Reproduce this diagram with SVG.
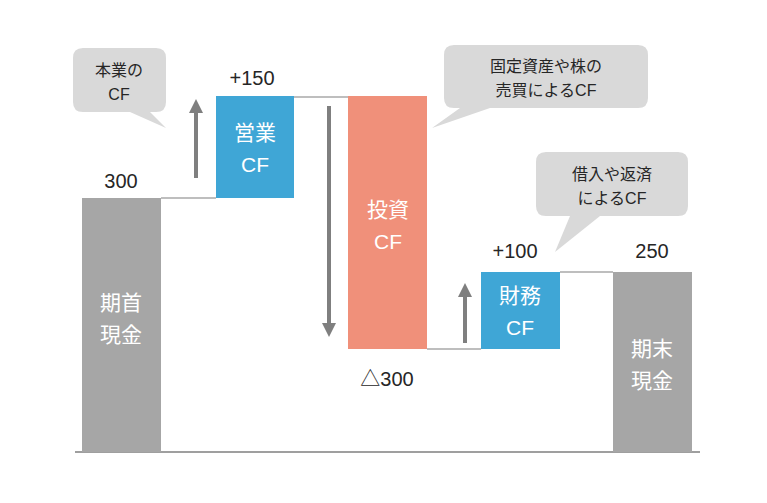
<svg xmlns="http://www.w3.org/2000/svg" width="767" height="503" viewBox="0 0 767 503">
<defs>
<style>
text{font-family:"Liberation Sans","Noto Sans CJK JP",sans-serif}
.num{font-size:20px;fill:#262626;text-anchor:middle}
.bar{font-size:21px;fill:#fff;text-anchor:middle}
.co{font-size:16px;fill:#262626;text-anchor:middle}
.call{fill:#d9d9d9}
.conn{stroke:#7f7f7f;stroke-width:1.2;fill:none}
.arr{stroke:#7f7f7f;stroke-width:4;fill:none}
</style>
<marker id="ah" viewBox="0 0 10 10" refX="5" refY="5" markerWidth="3.5" markerHeight="3.5" orient="auto-start-reverse"><path d="M0,0L10,5L0,10z" fill="#7f7f7f"/></marker>
</defs>
<rect width="767" height="503" fill="#fff"/>
<g id="connectors">
<line x1="75" y1="452" x2="700" y2="452" stroke="#7f7f7f" stroke-width="1.5"/>
<path class="conn" d="M161,198H216M294,97H348M427,349H481M560,272H613"/>
<line class="arr" x1="196" y1="178" x2="196" y2="106" marker-end="url(#ah)"/>
<line class="arr" x1="329" y1="106" x2="329" y2="330" marker-end="url(#ah)"/>
<line class="arr" x1="465" y1="343" x2="465" y2="290" marker-end="url(#ah)"/>
</g>
<g id="start"><rect x="82" y="198" width="79" height="254" fill="#a6a6a6"/><text class="bar" x="121" y="310">期首</text><text class="bar" x="121" y="342">現金</text><text class="num" x="121" y="188">300</text></g>
<g id="op"><rect x="216" y="96" width="78" height="102" fill="#3fa6d6"/><text class="bar" x="255" y="140">営業</text><text class="bar" x="255" y="172">CF</text><text class="num" x="252" y="85">+150</text></g>
<g id="inv"><rect x="348" y="96" width="79" height="253" fill="#f0907a"/><text class="bar" x="388" y="217">投資</text><text class="bar" x="388" y="249">CF</text><text class="num" x="387" y="386">△300</text></g>
<g id="fin"><rect x="481" y="272" width="79" height="77" fill="#3fa6d6"/><text class="bar" x="520" y="303">財務</text><text class="bar" x="520" y="335">CF</text><text class="num" x="515" y="258">+100</text></g>
<g id="end"><rect x="613" y="272" width="79" height="180" fill="#a6a6a6"/><text class="bar" x="652" y="356">期末</text><text class="bar" x="652" y="388">現金</text><text class="num" x="652" y="258">250</text></g>
<g id="c1"><path class="call" d="M83,48H156Q166,48 166,58V102Q166,112 156,112H150L166,128L130,112H83Q73,112 73,102V58Q73,48 83,48z"/><text class="co" x="119" y="76">本業の</text><text class="co" x="119" y="100">CF</text></g>
<g id="c2"><path class="call" d="M454,45H638Q648,45 648,55V98Q648,108 638,108H490L432,128L460,108H454Q444,108 444,98V55Q444,45 454,45z"/><text class="co" x="546" y="72">固定資産や株の</text><text class="co" x="546" y="96">売買によるCF</text></g>
<g id="c3"><path class="call" d="M546,152H678Q688,152 688,162V206Q688,216 678,216H600L555,252L570,216H546Q536,216 536,206V162Q536,152 546,152z"/><text class="co" x="612" y="180">借入や返済</text><text class="co" x="612" y="204">によるCF</text></g>
</svg>
